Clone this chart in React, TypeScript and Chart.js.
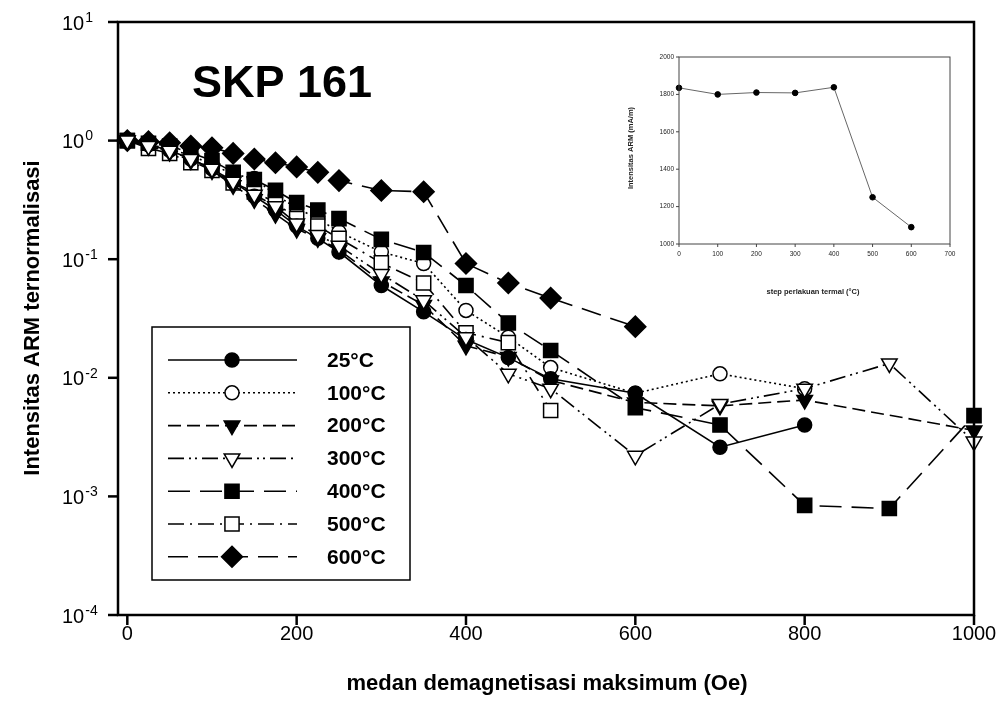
import React, { useEffect, useRef } from "react";
import { Chart, registerables } from "chart.js";
Chart.register(...registerables);

const FONT = '"Liberation Sans", Arial, sans-serif';

// Demagnetising field (Oe)
const FIELD_OE = [0, 25, 50, 75, 100, 125, 150, 175, 200, 225, 250, 300, 350, 400, 450, 500, 600, 700, 800, 900, 1000];

// Normalised ARM intensity per thermal step
const ARM_25C = [1.0, 0.92, 0.83, 0.7, 0.58, 0.45, 0.34, 0.26, 0.19, 0.15, 0.115, 0.06, 0.036, 0.021, 0.0148, 0.0098, 0.0074, 0.0026, 0.004, null, null];
const ARM_100C = [1.0, 0.93, 0.85, 0.75, 0.63, 0.52, 0.48, 0.35, 0.27, 0.22, 0.17, 0.115, 0.092, 0.037, 0.022, 0.0122, 0.0074, 0.0108, 0.0081, null, null];
const ARM_200C = [1.0, 0.9, 0.8, 0.68, 0.56, 0.42, 0.32, 0.24, 0.18, 0.15, 0.12, 0.065, 0.041, 0.0186, 0.015, 0.0095, 0.0062, 0.0058, 0.0065, null, 0.0036];
const ARM_300C = [1.0, 0.9, 0.82, 0.7, 0.58, 0.45, 0.35, 0.28, 0.2, 0.16, 0.13, 0.075, 0.045, 0.022, 0.0108, 0.0081, 0.0022, 0.006, 0.0081, 0.0132, 0.0029];
const ARM_400C = [1.0, 0.95, 0.9, 0.79, 0.68, 0.54, 0.47, 0.38, 0.3, 0.26, 0.22, 0.147, 0.114, 0.06, 0.029, 0.017, 0.0056, 0.004, 0.00084, 0.00079, 0.0048];
const ARM_500C = [1.0, 0.86, 0.78, 0.65, 0.56, 0.44, 0.37, 0.3, 0.22, 0.19, 0.15, 0.093, 0.063, 0.024, 0.0198, 0.0053, null, null, null, null, null];
const ARM_600C = [1.0, 0.98, 0.96, 0.9, 0.87, 0.78, 0.7, 0.65, 0.6, 0.54, 0.46, 0.38, 0.37, 0.092, 0.063, 0.047, 0.027, null, null, null, null];

const SERIES_LABELS = ["25°C", "100°C", "200°C", "300°C", "400°C", "500°C", "600°C"];
const X_TICKS = [0, 200, 400, 600, 800, 1000];
const Y_EXPONENTS = [1, 0, -1, -2, -3, -4];

// Inset: ARM intensity vs thermal step
const INSET_TEMP = [0, 100, 200, 300, 400, 500, 600];
const INSET_ARM = [1835, 1800, 1810, 1808, 1838, 1250, 1090];
const INSET_X_TICKS = [0, 100, 200, 300, 400, 500, 600, 700];
const INSET_Y_TICKS = [1000, 1200, 1400, 1600, 1800, 2000];

type Style = { shape: string; fill: boolean; r: number; dash: number[] };
const STYLES: Style[] = [
  { shape: "circle", fill: true, r: 7, dash: [] },
  { shape: "circle", fill: false, r: 7, dash: [2, 3] },
  { shape: "tri", fill: true, r: 9, dash: [13, 6] },
  { shape: "tri", fill: false, r: 9, dash: [16, 5, 2, 4, 2, 5] },
  { shape: "rect", fill: true, r: 10, dash: [22, 10] },
  { shape: "rect", fill: false, r: 10, dash: [16, 6, 2, 6] },
  { shape: "diamond", fill: true, r: 10.5, dash: [20, 10] },
];
const SERIES = [ARM_25C, ARM_100C, ARM_200C, ARM_300C, ARM_400C, ARM_500C, ARM_600C];
const DRAW_ORDER = [1, 5, 3, 0, 2, 4, 6];

function drawMarker(ctx: CanvasRenderingContext2D, s: Style, x: number, y: number) {
  ctx.save();
  ctx.setLineDash([]);
  ctx.beginPath();
  const r = s.r;
  if (s.shape === "circle") ctx.arc(x, y, r, 0, Math.PI * 2);
  else if (s.shape === "rect") {
    const h = r * Math.SQRT1_2;
    ctx.rect(x - h, y - h, 2 * h, 2 * h);
  } else if (s.shape === "diamond") {
    ctx.moveTo(x, y - r);
    ctx.lineTo(x + r, y);
    ctx.lineTo(x, y + r);
    ctx.lineTo(x - r, y);
    ctx.closePath();
  } else {
    ctx.moveTo(x, y + r);
    ctx.lineTo(x - r * 0.866, y - r / 2);
    ctx.lineTo(x + r * 0.866, y - r / 2);
    ctx.closePath();
  }
  ctx.fillStyle = s.fill ? "#000" : "#fff";
  ctx.fill();
  ctx.lineWidth = 1.5;
  ctx.strokeStyle = "#000";
  ctx.stroke();
  ctx.restore();
}

const mainPlugin = {
  id: "mainDecor",
  beforeDraw(chart: any) {
    const ctx = chart.ctx;
    ctx.save();
    ctx.fillStyle = "#fff";
    ctx.fillRect(0, 0, chart.width, chart.height);
    ctx.restore();
  },
  afterDraw(chart: any) {
    const ctx: CanvasRenderingContext2D = chart.ctx;
    const a = chart.chartArea;
    const xs = chart.scales.x;
    const ys = chart.scales.y;
    ctx.save();
    ctx.strokeStyle = "#000";
    ctx.fillStyle = "#000";
    ctx.lineWidth = 2.5;
    ctx.setLineDash([]);
    ctx.strokeRect(a.left, a.top, a.right - a.left, a.bottom - a.top);

    // y ticks and labels
    for (const e of Y_EXPONENTS) {
      const py = ys.getPixelForValue(Math.pow(10, e));
      ctx.beginPath();
      ctx.moveTo(a.left - 10, py);
      ctx.lineTo(a.left, py);
      ctx.stroke();
      ctx.font = `20px ${FONT}`;
      ctx.textAlign = "left";
      ctx.textBaseline = "middle";
      ctx.fillText("10", 62, py + 2);
      const w = ctx.measureText("10").width;
      ctx.font = `14px ${FONT}`;
      ctx.fillText(String(e), 62 + w + 1, py - 4);
    }
    // x ticks and labels
    ctx.font = `20px ${FONT}`;
    ctx.textAlign = "center";
    ctx.textBaseline = "middle";
    for (const v of X_TICKS) {
      const px = xs.getPixelForValue(v);
      ctx.beginPath();
      ctx.moveTo(px, a.bottom);
      ctx.lineTo(px, a.bottom + 10);
      ctx.stroke();
      ctx.fillText(String(v), px, a.bottom + 19);
    }
    // axis titles
    ctx.font = `bold 22px ${FONT}`;
    ctx.fillText("medan demagnetisasi maksimum (Oe)", 547, 684);
    ctx.save();
    ctx.translate(33, 318);
    ctx.rotate(-Math.PI / 2);
    ctx.fillText("Intensitas ARM ternormalisasi", 0, 0);
    ctx.restore();

    // sample label
    ctx.font = `bold 45px ${FONT}`;
    ctx.textAlign = "left";
    ctx.textBaseline = "alphabetic";
    ctx.fillText("SKP 161", 192, 97);

    // legend
    ctx.fillStyle = "#fff";
    ctx.fillRect(152, 327, 258, 253);
    ctx.lineWidth = 1.5;
    ctx.strokeRect(152, 327, 258, 253);
    for (let i = 0; i < STYLES.length; i++) {
      const ry = 360 + i * 32.8;
      ctx.save();
      ctx.lineWidth = 1.6;
      ctx.setLineDash(STYLES[i].dash);
      ctx.beginPath();
      ctx.moveTo(168, ry);
      ctx.lineTo(297, ry);
      ctx.stroke();
      ctx.restore();
      drawMarker(ctx, STYLES[i], 232, ry);
      ctx.fillStyle = "#000";
      ctx.font = `bold 21px ${FONT}`;
      ctx.textBaseline = "middle";
      ctx.fillText(SERIES_LABELS[i], 327, ry + 1);
    }
    ctx.restore();
  },
};

const insetPlugin = {
  id: "insetDecor",
  afterDraw(chart: any) {
    const ctx: CanvasRenderingContext2D = chart.ctx;
    const a = chart.chartArea;
    const xs = chart.scales.x;
    const ys = chart.scales.y;
    ctx.save();
    ctx.strokeStyle = "#444";
    ctx.fillStyle = "#222";
    ctx.lineWidth = 1;
    ctx.strokeRect(a.left, a.top, a.right - a.left, a.bottom - a.top);
    ctx.font = `6.5px ${FONT}`;
    ctx.textAlign = "right";
    ctx.textBaseline = "middle";
    for (const v of INSET_Y_TICKS) {
      const py = ys.getPixelForValue(v);
      ctx.beginPath();
      ctx.moveTo(a.left - 3, py);
      ctx.lineTo(a.left, py);
      ctx.stroke();
      ctx.fillText(String(v), a.left - 5, py);
    }
    ctx.textAlign = "center";
    for (const v of INSET_X_TICKS) {
      const px = xs.getPixelForValue(v);
      ctx.beginPath();
      ctx.moveTo(px, a.bottom);
      ctx.lineTo(px, a.bottom + 3);
      ctx.stroke();
      ctx.fillText(String(v), px, a.bottom + 10);
    }
    ctx.font = `bold 7.5px ${FONT}`;
    ctx.fillText("step perlakuan termal (°C)", 193, 252);
    ctx.translate(11, 108);
    ctx.rotate(-Math.PI / 2);
    ctx.fillText("Intensitas ARM (mA/m)", 0, 0);
    ctx.restore();
  },
};

export default function App() {
  const mainRef = useRef<HTMLCanvasElement>(null);
  const insetRef = useRef<HTMLCanvasElement>(null);

  useEffect(() => {
    const datasets = SERIES.map((data, i) => {
      const s = STYLES[i];
      return {
        label: SERIES_LABELS[i],
        data: FIELD_OE.map((x, j) => ({ x, y: data[j] })).filter((p) => p.y !== null),
        borderColor: "#000",
        borderWidth: 1.6,
        borderDash: s.dash,
        backgroundColor: s.fill ? "#000" : "#fff",
        pointBackgroundColor: s.fill ? "#000" : "#fff",
        pointBorderColor: "#000",
        pointBorderWidth: 1.5,
        pointStyle: s.shape === "tri" ? "triangle" : s.shape === "diamond" ? "rectRot" : s.shape,
        pointRotation: s.shape === "tri" ? 180 : 0,
        pointRadius: s.shape === "tri" ? 9 : s.shape === "rect" ? 10 : s.shape === "diamond" ? 10.5 : 7,
        pointHoverRadius: 7,
        tension: 0,
        fill: false,
        clip: false as any,
        order: DRAW_ORDER[i],
      };
    });
    const main = new Chart(mainRef.current!, {
      type: "line",
      data: { datasets },
      options: {
        responsive: false,
        animation: false,
        events: [],
        layout: { padding: { left: 118, right: 29, top: 22, bottom: 107 } },
        plugins: { legend: { display: false }, tooltip: { enabled: false } },
        scales: {
          x: { type: "linear", min: -11, max: 1000, display: false },
          y: { type: "logarithmic", min: 1e-4, max: 10, display: false },
        },
      },
      plugins: [mainPlugin],
    });

    const inset = new Chart(insetRef.current!, {
      type: "line",
      data: {
        datasets: [
          {
            data: INSET_TEMP.map((x, i) => ({ x, y: INSET_ARM[i] })),
            borderColor: "#666",
            borderWidth: 1,
            pointBackgroundColor: "#000",
            pointBorderColor: "#000",
            pointRadius: 2.8,
            clip: false as any,
          },
        ],
      },
      options: {
        responsive: false,
        animation: false,
        events: [],
        layout: { padding: { left: 59, right: 10, top: 17, bottom: 66 } },
        plugins: { legend: { display: false }, tooltip: { enabled: false } },
        scales: {
          x: { type: "linear", min: 0, max: 700, display: false },
          y: { type: "linear", min: 1000, max: 2000, display: false },
        },
      },
      plugins: [insetPlugin],
    });
    return () => {
      main.destroy();
      inset.destroy();
    };
  }, []);

  return (
    <div style={{ position: "fixed", left: 0, top: 0, width: 1003, height: 722, background: "#fff" }}>
      <canvas ref={mainRef} width={1003} height={722} style={{ position: "absolute", left: 0, top: 0 }} />
      <canvas ref={insetRef} width={340} height={270} style={{ position: "absolute", left: 620, top: 40 }} />
    </div>
  );
}
